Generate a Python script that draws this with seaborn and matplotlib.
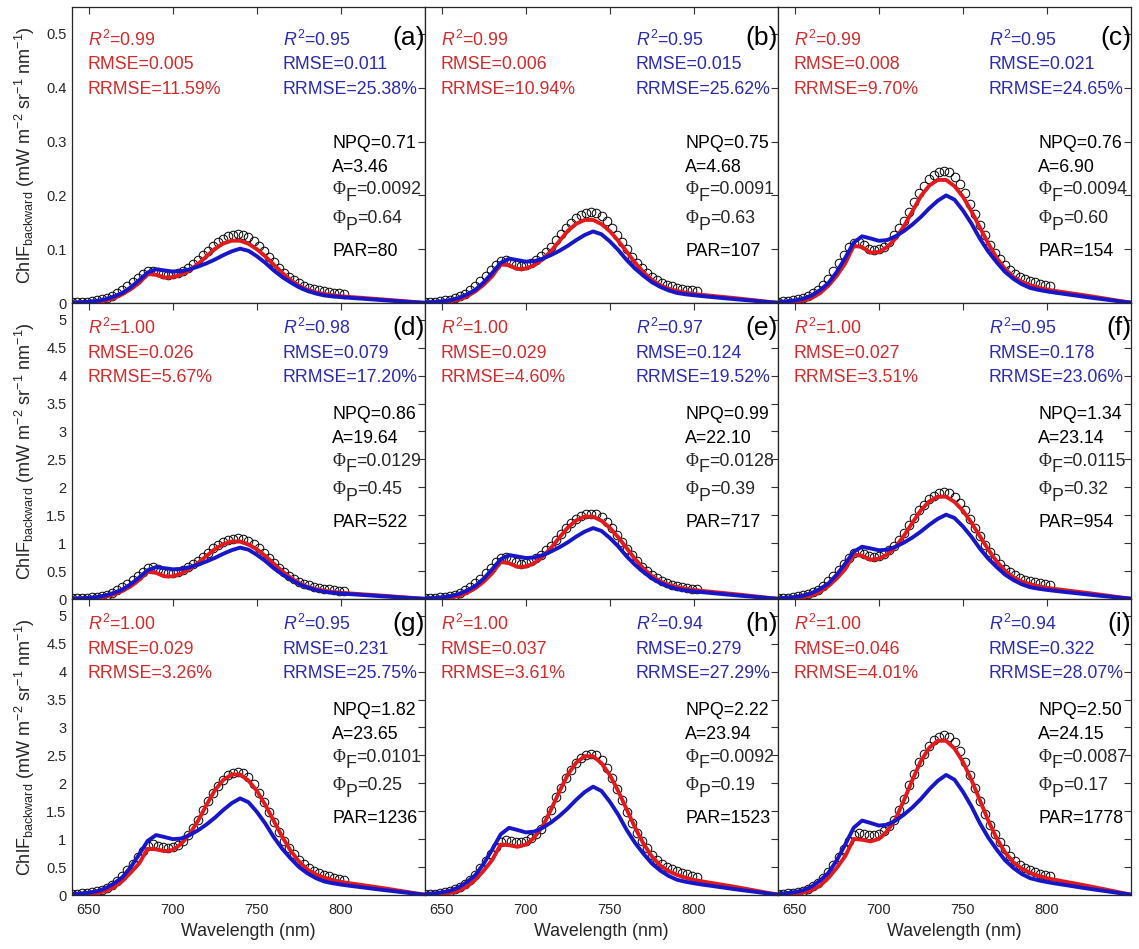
import matplotlib
matplotlib.use("Agg")
import matplotlib.pyplot as plt
import matplotlib.ticker as mticker
import pandas as pd
import seaborn as sns

# wavelength grids (nm): measured spectra (circles) and model curves (lines)
wl_meas = list(range(640, 803, 3))
wl_model = list(range(640, 851, 5))

panels = ["a", "b", "c", "d", "e", "f", "g", "h", "i"]

# measured ChlF backward (circles)
meas_a = [0.0013, 0.0015, 0.0020, 0.0027, 0.0036, 0.0049, 0.0067, 0.0092, 0.0128, 0.0177, 0.0237, 0.0307, 0.0384,
          0.0461, 0.0538, 0.0589, 0.0602, 0.0570, 0.0538, 0.0525, 0.0531, 0.0557, 0.0602, 0.0659, 0.0723,
          0.0794, 0.0883, 0.0973, 0.1062, 0.1133, 0.1197, 0.1242, 0.1270, 0.1280, 0.1267, 0.1222, 0.1152, 0.1062,
          0.0960, 0.0858, 0.0755, 0.0653, 0.0563, 0.0486, 0.0422, 0.0365, 0.0320, 0.0284, 0.0256, 0.0233, 0.0215,
          0.0201, 0.0188, 0.0177, 0.0166]
meas_b = [0.0017, 0.0020, 0.0027, 0.0035, 0.0047, 0.0064, 0.0088, 0.0122, 0.0169, 0.0233, 0.0313, 0.0406, 0.0507,
          0.0608, 0.0710, 0.0777, 0.0794, 0.0752, 0.0710, 0.0693, 0.0701, 0.0735, 0.0794, 0.0870, 0.0955,
          0.1048, 0.1166, 0.1284, 0.1403, 0.1496, 0.1580, 0.1639, 0.1676, 0.1690, 0.1673, 0.1614, 0.1521, 0.1403,
          0.1268, 0.1132, 0.0997, 0.0862, 0.0744, 0.0642, 0.0558, 0.0482, 0.0423, 0.0375, 0.0338, 0.0308, 0.0284,
          0.0265, 0.0248, 0.0233, 0.0220]
meas_c = [0.0025, 0.0030, 0.0039, 0.0052, 0.0069, 0.0093, 0.0128, 0.0177, 0.0246, 0.0339, 0.0455, 0.0590, 0.0738,
          0.0886, 0.1033, 0.1110, 0.1130, 0.1070, 0.1010, 0.0990, 0.1000, 0.1050, 0.1140, 0.1260, 0.1390,
          0.1525, 0.1697, 0.1870, 0.2042, 0.2177, 0.2300, 0.2386, 0.2440, 0.2460, 0.2435, 0.2349, 0.2214, 0.2042,
          0.1845, 0.1648, 0.1451, 0.1255, 0.1082, 0.0935, 0.0812, 0.0701, 0.0615, 0.0546, 0.0492, 0.0448, 0.0413,
          0.0386, 0.0362, 0.0339, 0.0320]
meas_d = [0.011, 0.013, 0.017, 0.023, 0.031, 0.041, 0.057, 0.078, 0.109, 0.153, 0.207, 0.273, 0.338,
          0.414, 0.491, 0.556, 0.578, 0.534, 0.480, 0.458, 0.463, 0.485, 0.523, 0.572, 0.627,
          0.676, 0.752, 0.828, 0.905, 0.965, 1.019, 1.057, 1.081, 1.090, 1.079, 1.041, 0.981, 0.905,
          0.818, 0.730, 0.643, 0.556, 0.480, 0.414, 0.360, 0.311, 0.273, 0.242, 0.218, 0.198, 0.183,
          0.171, 0.160, 0.150, 0.142]
meas_e = [0.015, 0.018, 0.024, 0.032, 0.043, 0.058, 0.080, 0.110, 0.153, 0.211, 0.283, 0.367, 0.459,
          0.558, 0.658, 0.727, 0.750, 0.704, 0.658, 0.635, 0.643, 0.673, 0.727, 0.796, 0.872,
          0.949, 1.056, 1.163, 1.270, 1.354, 1.431, 1.484, 1.518, 1.530, 1.515, 1.461, 1.377, 1.270,
          1.148, 1.025, 0.903, 0.780, 0.673, 0.581, 0.505, 0.436, 0.370, 0.325, 0.285, 0.255, 0.232,
          0.214, 0.199, 0.186, 0.175]
meas_f = [0.013, 0.017, 0.025, 0.032, 0.046, 0.063, 0.088, 0.120, 0.170, 0.235, 0.315, 0.411, 0.516,
          0.621, 0.735, 0.821, 0.850, 0.812, 0.774, 0.754, 0.764, 0.802, 0.869, 0.955, 1.060,
          1.175, 1.318, 1.452, 1.585, 1.690, 1.786, 1.853, 1.895, 1.910, 1.891, 1.824, 1.719, 1.585,
          1.433, 1.280, 1.127, 0.974, 0.840, 0.726, 0.630, 0.544, 0.478, 0.424, 0.382, 0.348, 0.321,
          0.300, 0.281, 0.264, 0.248]
meas_g = [0.013, 0.018, 0.027, 0.035, 0.049, 0.066, 0.095, 0.130, 0.183, 0.254, 0.343, 0.442, 0.564,
          0.674, 0.796, 0.877, 0.906, 0.880, 0.851, 0.840, 0.853, 0.895, 0.972, 1.072, 1.193,
          1.348, 1.525, 1.680, 1.834, 1.956, 2.066, 2.144, 2.192, 2.210, 2.188, 2.111, 1.989, 1.834,
          1.658, 1.481, 1.304, 1.127, 0.972, 0.840, 0.729, 0.630, 0.553, 0.491, 0.430, 0.390, 0.360,
          0.335, 0.312, 0.292, 0.275]
meas_h = [0.013, 0.018, 0.025, 0.035, 0.051, 0.071, 0.101, 0.139, 0.197, 0.273, 0.367, 0.481, 0.607,
          0.734, 0.860, 0.949, 0.987, 0.974, 0.956, 0.951, 0.966, 1.012, 1.088, 1.189, 1.341,
          1.518, 1.746, 1.923, 2.100, 2.239, 2.366, 2.454, 2.510, 2.530, 2.505, 2.416, 2.277, 2.100,
          1.898, 1.695, 1.493, 1.290, 1.113, 0.961, 0.835, 0.721, 0.633, 0.562, 0.506, 0.460, 0.425,
          0.397, 0.372, 0.349, 0.329]
meas_i = [0.014, 0.020, 0.029, 0.040, 0.057, 0.080, 0.114, 0.157, 0.223, 0.309, 0.415, 0.543, 0.686,
          0.829, 0.972, 1.073, 1.115, 1.101, 1.081, 1.075, 1.093, 1.144, 1.230, 1.344, 1.516,
          1.716, 1.973, 2.174, 2.374, 2.531, 2.674, 2.774, 2.837, 2.860, 2.831, 2.731, 2.574, 2.374,
          2.145, 1.916, 1.687, 1.459, 1.258, 1.087, 0.944, 0.815, 0.700, 0.610, 0.540, 0.485, 0.445,
          0.412, 0.385, 0.360, 0.340]

# red model curves
red_a = [0, 0.0005, 0.0012, 0.0023, 0.0047, 0.0094, 0.0164, 0.0257, 0.0374, 0.0538, 0.0527, 0.0474, 0.0480,
         0.0527, 0.0608, 0.0725, 0.0866, 0.1006, 0.1106, 0.1158, 0.1158, 0.1100, 0.1000, 0.0866, 0.0714,
         0.0562, 0.0427, 0.0322, 0.0246, 0.0199, 0.0167, 0.0144, 0.0126, 0.0113, 0.0102, 0.0090, 0.0078,
         0.0067, 0.0054, 0.0041, 0.0028, 0.0015, 0.0004]
red_b = [0, 0.0006, 0.0016, 0.0031, 0.0062, 0.0125, 0.0218, 0.0343, 0.0499, 0.0718, 0.0702, 0.0632, 0.0640,
         0.0702, 0.0811, 0.0967, 0.1154, 0.1342, 0.1474, 0.1544, 0.1544, 0.1466, 0.1334, 0.1154, 0.0952,
         0.0749, 0.0569, 0.0429, 0.0328, 0.0265, 0.0223, 0.0192, 0.0168, 0.0151, 0.0136, 0.0120, 0.0105,
         0.0089, 0.0072, 0.0055, 0.0037, 0.0020, 0.0005]
red_c = [0, 0.0009, 0.0023, 0.0046, 0.0092, 0.0185, 0.0323, 0.0508, 0.0739, 0.1063, 0.1040, 0.0936, 0.0947,
         0.1040, 0.1201, 0.1432, 0.1709, 0.1987, 0.2183, 0.2287, 0.2287, 0.2171, 0.1975, 0.1709, 0.1409,
         0.1109, 0.0843, 0.0635, 0.0485, 0.0393, 0.0330, 0.0284, 0.0249, 0.0224, 0.0201, 0.0178, 0.0155,
         0.0132, 0.0106, 0.0081, 0.0055, 0.0030, 0.0007]
red_d = [0, 0.004, 0.010, 0.021, 0.042, 0.083, 0.146, 0.229, 0.343, 0.489, 0.468, 0.406, 0.406,
         0.458, 0.541, 0.645, 0.770, 0.894, 0.983, 1.030, 1.030, 0.978, 0.889, 0.770, 0.634,
         0.499, 0.380, 0.286, 0.218, 0.177, 0.149, 0.128, 0.112, 0.101, 0.090, 0.080, 0.070,
         0.059, 0.048, 0.036, 0.025, 0.014, 0.003]
red_e = [0, 0.004, 0.013, 0.027, 0.055, 0.112, 0.194, 0.313, 0.462, 0.663, 0.641, 0.574, 0.581,
         0.641, 0.760, 0.916, 1.103, 1.281, 1.408, 1.475, 1.475, 1.401, 1.274, 1.103, 0.909,
         0.715, 0.544, 0.410, 0.313, 0.253, 0.213, 0.183, 0.161, 0.145, 0.130, 0.115, 0.100,
         0.085, 0.069, 0.052, 0.036, 0.019, 0.004]
red_f = [0, 0.006, 0.015, 0.031, 0.065, 0.130, 0.231, 0.370, 0.537, 0.796, 0.777, 0.703, 0.722,
         0.796, 0.934, 1.138, 1.369, 1.591, 1.748, 1.832, 1.832, 1.739, 1.582, 1.369, 1.129,
         0.888, 0.675, 0.509, 0.389, 0.315, 0.265, 0.228, 0.200, 0.179, 0.161, 0.142, 0.124,
         0.105, 0.085, 0.065, 0.044, 0.024, 0.006]
red_g = [0, 0.007, 0.015, 0.033, 0.070, 0.140, 0.251, 0.403, 0.567, 0.828, 0.818, 0.785, 0.807,
         0.916, 1.090, 1.330, 1.613, 1.875, 2.060, 2.158, 2.158, 2.049, 1.864, 1.613, 1.330,
         1.046, 0.796, 0.600, 0.458, 0.371, 0.312, 0.268, 0.235, 0.211, 0.190, 0.168, 0.146,
         0.124, 0.100, 0.076, 0.052, 0.028, 0.007]
red_h = [0, 0.008, 0.018, 0.038, 0.075, 0.151, 0.276, 0.439, 0.628, 0.904, 0.891, 0.863, 0.904,
         1.029, 1.230, 1.531, 1.857, 2.159, 2.372, 2.485, 2.485, 2.359, 2.146, 1.857, 1.531,
         1.205, 0.916, 0.690, 0.527, 0.427, 0.359, 0.309, 0.271, 0.243, 0.218, 0.193, 0.168,
         0.143, 0.115, 0.088, 0.060, 0.033, 0.008]
red_i = [0, 0.008, 0.020, 0.042, 0.084, 0.167, 0.307, 0.488, 0.698, 1.004, 0.990, 0.960, 1.004,
         1.144, 1.367, 1.702, 2.065, 2.399, 2.637, 2.762, 2.762, 2.623, 2.385, 2.065, 1.702,
         1.339, 1.018, 0.767, 0.586, 0.474, 0.399, 0.343, 0.301, 0.271, 0.243, 0.215, 0.187,
         0.159, 0.128, 0.098, 0.067, 0.036, 0.008]

# blue model curves
blue_a = [0.0010, 0.0015, 0.0024, 0.0040, 0.0071, 0.0121, 0.0187, 0.0293, 0.0424, 0.0566, 0.0626, 0.0606, 0.0584,
          0.0591, 0.0626, 0.0677, 0.0737, 0.0808, 0.0889, 0.0960, 0.1010, 0.0970, 0.0869, 0.0747, 0.0606,
          0.0485, 0.0384, 0.0293, 0.0227, 0.0177, 0.0141, 0.0123, 0.0109, 0.0097, 0.0086, 0.0075, 0.0064,
          0.0053, 0.0042, 0.0032, 0.0022, 0.0012, 0.0003]
blue_b = [0.0013, 0.0020, 0.0032, 0.0053, 0.0093, 0.0160, 0.0246, 0.0386, 0.0559, 0.0745, 0.0825, 0.0798, 0.0769,
          0.0778, 0.0825, 0.0891, 0.0971, 0.1064, 0.1170, 0.1264, 0.1330, 0.1277, 0.1144, 0.0984, 0.0798,
          0.0638, 0.0505, 0.0386, 0.0299, 0.0233, 0.0186, 0.0162, 0.0144, 0.0128, 0.0113, 0.0098, 0.0084,
          0.0069, 0.0056, 0.0043, 0.0029, 0.0016, 0.0004]
blue_c = [0.0020, 0.0030, 0.0048, 0.0080, 0.0140, 0.0240, 0.0370, 0.0580, 0.0840, 0.1120, 0.1240, 0.1200, 0.1156,
          0.1170, 0.1240, 0.1340, 0.1460, 0.1600, 0.1760, 0.1900, 0.2000, 0.1920, 0.1720, 0.1480, 0.1200,
          0.0960, 0.0760, 0.0580, 0.0450, 0.0350, 0.0280, 0.0244, 0.0216, 0.0192, 0.0170, 0.0148, 0.0126,
          0.0104, 0.0084, 0.0064, 0.0044, 0.0024, 0.0006]
blue_d = [0.009, 0.014, 0.022, 0.037, 0.064, 0.110, 0.170, 0.267, 0.386, 0.515, 0.570, 0.552, 0.532,
          0.538, 0.570, 0.616, 0.672, 0.736, 0.810, 0.874, 0.920, 0.883, 0.791, 0.681, 0.552,
          0.442, 0.350, 0.267, 0.207, 0.161, 0.129, 0.112, 0.099, 0.088, 0.078, 0.068, 0.058,
          0.048, 0.039, 0.029, 0.020, 0.011, 0.003]
blue_e = [0.013, 0.019, 0.030, 0.051, 0.089, 0.152, 0.235, 0.368, 0.533, 0.711, 0.787, 0.762, 0.734,
          0.743, 0.787, 0.851, 0.927, 1.016, 1.118, 1.207, 1.270, 1.219, 1.092, 0.940, 0.762,
          0.610, 0.483, 0.368, 0.286, 0.222, 0.178, 0.155, 0.137, 0.122, 0.108, 0.094, 0.080,
          0.066, 0.053, 0.041, 0.028, 0.015, 0.004]
blue_f = [0.015, 0.023, 0.036, 0.060, 0.106, 0.181, 0.279, 0.438, 0.634, 0.846, 0.936, 0.906, 0.873,
          0.883, 0.936, 1.012, 1.102, 1.208, 1.329, 1.435, 1.510, 1.450, 1.299, 1.117, 0.906,
          0.725, 0.574, 0.438, 0.340, 0.264, 0.211, 0.184, 0.163, 0.145, 0.128, 0.112, 0.095,
          0.079, 0.063, 0.048, 0.033, 0.018, 0.005]
blue_g = [0.017, 0.026, 0.042, 0.069, 0.121, 0.208, 0.320, 0.502, 0.727, 0.969, 1.073, 1.038, 1.000,
          1.012, 1.073, 1.159, 1.263, 1.384, 1.522, 1.644, 1.730, 1.661, 1.488, 1.280, 1.038,
          0.830, 0.657, 0.502, 0.389, 0.303, 0.242, 0.211, 0.187, 0.166, 0.147, 0.128, 0.109,
          0.090, 0.073, 0.055, 0.038, 0.021, 0.005]
blue_h = [0.019, 0.029, 0.047, 0.078, 0.136, 0.233, 0.359, 0.563, 0.815, 1.086, 1.203, 1.164, 1.121,
          1.135, 1.203, 1.300, 1.416, 1.552, 1.707, 1.843, 1.940, 1.862, 1.668, 1.436, 1.164,
          0.931, 0.737, 0.563, 0.437, 0.340, 0.272, 0.237, 0.210, 0.186, 0.165, 0.144, 0.122,
          0.101, 0.081, 0.062, 0.043, 0.023, 0.006]
blue_i = [0.022, 0.032, 0.052, 0.086, 0.151, 0.258, 0.398, 0.624, 0.903, 1.204, 1.333, 1.290, 1.243,
          1.258, 1.333, 1.441, 1.570, 1.720, 1.892, 2.043, 2.150, 2.064, 1.849, 1.591, 1.290,
          1.032, 0.817, 0.624, 0.484, 0.376, 0.301, 0.262, 0.232, 0.206, 0.183, 0.159, 0.135,
          0.112, 0.090, 0.069, 0.047, 0.026, 0.006]

meas = dict(zip(panels, [meas_a, meas_b, meas_c, meas_d, meas_e, meas_f, meas_g, meas_h, meas_i]))
red = dict(zip(panels, [red_a, red_b, red_c, red_d, red_e, red_f, red_g, red_h, red_i]))
blue = dict(zip(panels, [blue_a, blue_b, blue_c, blue_d, blue_e, blue_f, blue_g, blue_h, blue_i]))

# statistics printed in each panel
red_r2 = ["0.99", "0.99", "0.99", "1.00", "1.00", "1.00", "1.00", "1.00", "1.00"]
red_rmse = ["0.005", "0.006", "0.008", "0.026", "0.029", "0.027", "0.029", "0.037", "0.046"]
red_rrmse = ["11.59%", "10.94%", "9.70%", "5.67%", "4.60%", "3.51%", "3.26%", "3.61%", "4.01%"]
blue_r2 = ["0.95", "0.95", "0.95", "0.98", "0.97", "0.95", "0.95", "0.94", "0.94"]
blue_rmse = ["0.011", "0.015", "0.021", "0.079", "0.124", "0.178", "0.231", "0.279", "0.322"]
blue_rrmse = ["25.38%", "25.62%", "24.65%", "17.20%", "19.52%", "23.06%", "25.75%", "27.29%", "28.07%"]
npq = ["0.71", "0.75", "0.76", "0.86", "0.99", "1.34", "1.82", "2.22", "2.50"]
a_val = ["3.46", "4.68", "6.90", "19.64", "22.10", "23.14", "23.65", "23.94", "24.15"]
phi_f = ["0.0092", "0.0091", "0.0094", "0.0129", "0.0128", "0.0115", "0.0101", "0.0092", "0.0087"]
phi_p = ["0.64", "0.63", "0.60", "0.45", "0.39", "0.32", "0.25", "0.19", "0.17"]
par = ["80", "107", "154", "522", "717", "954", "1236", "1523", "1778"]

red_line = "#e3191c"
blue_line = "#1717c9"
red_text = "#d42a2a"
blue_text = "#2a2ab4"

sns.set_style("white")
plt.rcParams["font.family"] = ["Liberation Sans", "DejaVu Sans"]
plt.rcParams["mathtext.fontset"] = "custom"
plt.rcParams["mathtext.rm"] = "Liberation Sans"
plt.rcParams["mathtext.it"] = "Liberation Sans:italic"
plt.rcParams["mathtext.bf"] = "Liberation Sans:bold"

fig, axes = plt.subplots(3, 3, figsize=(11.39, 9.49), dpi=100, sharex=True)
fig.subplots_adjust(left=0.0632, right=0.993, bottom=0.0569, top=0.9926, wspace=0, hspace=0)

ylabel = r"ChlF$_{\mathrm{backward}}$ (mW m$^{-2}$ sr$^{-1}$ nm$^{-1}$)"
fs = 12.8


def phi_text(ax, x, y, sub, value):
    # Phi with a full-size, lowered subscript, then "=value" back on the baseline
    t1 = ax.text(x, y, "\u03a6", fontsize=fs, family=["Liberation Serif", "DejaVu Serif"],
                 transform=ax.transAxes, va="baseline", ha="left")
    t2 = ax.annotate(sub, xy=(1, 0), xycoords=t1, xytext=(0.3, -5), textcoords="offset points",
                     fontsize=fs, va="bottom", ha="left")
    ax.annotate("=" + value, xy=(1, 0), xycoords=t2, xytext=(0, 5), textcoords="offset points",
                fontsize=fs, va="bottom", ha="left")


for k, p in enumerate(panels):
    r, c = divmod(k, 3)
    ax = axes[r, c]
    dm = pd.DataFrame({"wl": wl_meas, "v": meas[p]})
    dl = pd.DataFrame({"wl": wl_model, "red": red[p], "blue": blue[p]})

    sns.lineplot(data=dm, x="wl", y="v", ax=ax, marker="o", linestyle="", color="black",
                 markersize=6.2, markerfacecolor="none", markeredgecolor="black", markeredgewidth=0.7)
    sns.lineplot(data=dl, x="wl", y="red", ax=ax, color=red_line, lw=2.8)
    sns.lineplot(data=dl, x="wl", y="blue", ax=ax, color=blue_line, lw=2.8)

    ax.set_xlim(640, 850)
    ax.set_xticks([650, 700, 750, 800])
    if r == 0:
        ax.set_ylim(0, 0.55)
        ax.set_yticks([0, 0.1, 0.2, 0.3, 0.4, 0.5])
    else:
        ax.set_ylim(0, 5.3)
        ax.set_yticks([0, 0.5, 1, 1.5, 2, 2.5, 3, 3.5, 4, 4.5, 5])
    ax.yaxis.set_major_formatter(mticker.FormatStrFormatter("%g"))

    ax.tick_params(direction="in", top=True, right=True, length=5, width=0.8,
                   labelsize=10.5, color="#333333", labelcolor="#262626")
    ax.tick_params(axis="y", pad=4)
    ax.tick_params(axis="x", pad=5.5)
    ax.tick_params(labelleft=(c == 0), labelbottom=(r == 2))
    for sp in ax.spines.values():
        sp.set_linewidth(0.9)
        sp.set_color("#262626")

    ax.set_xlabel("Wavelength (nm)" if r == 2 else "", fontsize=12.8, color="#262626")
    ax.set_ylabel(ylabel if c == 0 else "", fontsize=13, color="#262626")
    ax.yaxis.set_label_coords(-0.1, 0.5)
    ax.xaxis.set_label_coords(0.5, -0.094)

    if r == 0:
        ys = [0.869, 0.79, 0.706, 0.524, 0.443, 0.368, 0.27, 0.159, 0.897]
    else:
        ys = [0.895, 0.814, 0.732, 0.608, 0.528, 0.451, 0.354, 0.243, 0.915]
    tr = ax.transAxes
    ax.text(0.045, ys[0], f"$R^2$={red_r2[k]}", color=red_text, fontsize=fs, transform=tr, va="baseline")
    ax.text(0.045, ys[1], f"RMSE={red_rmse[k]}", color=red_text, fontsize=fs, transform=tr, va="baseline")
    ax.text(0.045, ys[2], f"RRMSE={red_rrmse[k]}", color=red_text, fontsize=fs, transform=tr, va="baseline")
    ax.text(0.597, ys[0], f"$R^2$={blue_r2[k]}", color=blue_text, fontsize=fs, transform=tr, va="baseline")
    ax.text(0.597, ys[1], f"RMSE={blue_rmse[k]}", color=blue_text, fontsize=fs, transform=tr, va="baseline")
    ax.text(0.597, ys[2], f"RRMSE={blue_rrmse[k]}", color=blue_text, fontsize=fs, transform=tr, va="baseline")
    ax.text(0.737, ys[3], f"NPQ={npq[k]}", color="black", fontsize=fs, transform=tr, va="baseline")
    ax.text(0.737, ys[4], f"A={a_val[k]}", color="black", fontsize=fs, transform=tr, va="baseline")
    phi_text(ax, 0.737, ys[5], "F", phi_f[k])
    phi_text(ax, 0.737, ys[6], "P", phi_p[k])
    ax.text(0.737, ys[7], f"PAR={par[k]}", color="black", fontsize=fs, transform=tr, va="baseline")
    ax.text(1.0, ys[8], f"({p})", color="black", fontsize=19, transform=tr, va="center", ha="right")

fig.savefig("out.png", dpi=100)
